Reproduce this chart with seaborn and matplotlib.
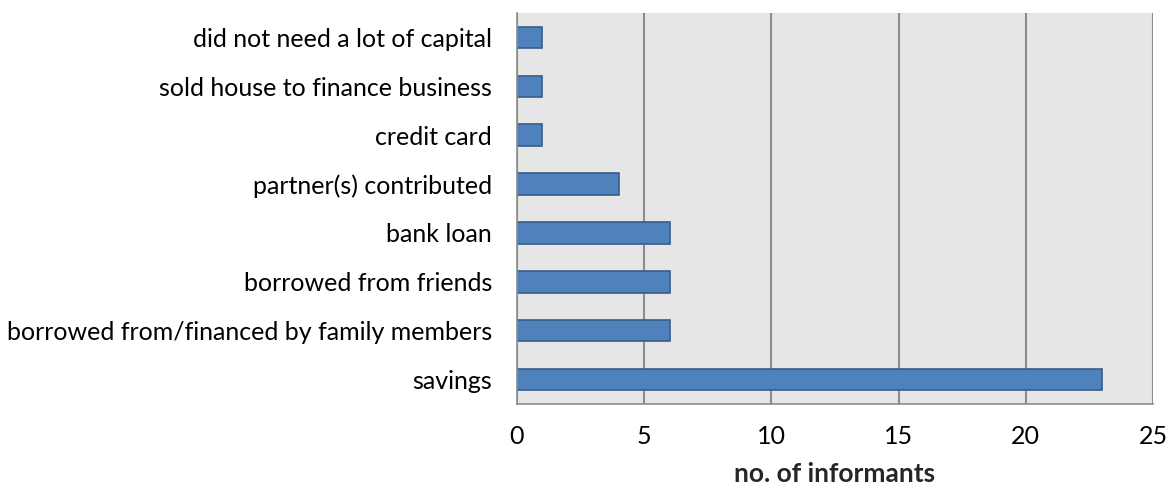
import matplotlib
matplotlib.use("Agg")
import matplotlib.pyplot as plt
import seaborn as sns
import pandas as pd
import numpy as np

categories = [
    "did not need a lot of capital",
    "sold house to finance business",
    "credit card",
    "partner(s) contributed",
    "bank loan",
    "borrowed from friends",
    "borrowed from/financed by family members",
    "savings",
]
counts = [1, 1, 1, 4, 6, 6, 6, 23]
x_ticks = [0, 5, 10, 15, 20, 25]

df = pd.DataFrame({"source": categories, "informants": counts})

sns.set_theme(style="white")
plt.rcParams["font.family"] = ["Lato", "DejaVu Sans"]

fig = plt.figure(figsize=(11.71, 4.86), dpi=100)
ax = fig.add_axes([517 / 1171, 1 - 404 / 486, (1153 - 517) / 1171, (404 - 13) / 486])
ax.set_facecolor("#E6E6E6")

sns.barplot(data=df, y="source", x="informants", order=categories, ax=ax,
            color="#4F81BD", edgecolor="#385D8A", linewidth=1.2, width=0.44,
            saturation=1, orient="h")

grid_c = "#8C8C8C"
ax.set_xlim(0, 25)
ax.set_ylim(len(categories) - 0.5, -0.5)
ax.set_xticks(x_ticks)
ax.set_xticklabels([str(t) for t in x_ticks], fontsize=18, color="#000000")
ax.xaxis.grid(True, color=grid_c, linewidth=1.5)
ax.set_axisbelow(True)

ax.tick_params(axis="y", which="major", length=0, labelsize=18, pad=18, labelcolor="#000000")
ax.set_yticks(np.arange(-0.5, len(categories)), minor=True)
ax.tick_params(axis="y", which="minor", length=7, width=1.2, color=grid_c, direction="out")
ax.tick_params(axis="x", which="major", length=6, width=1.2, color=grid_c, direction="out", pad=9)

for side in ["top", "right"]:
    ax.spines[side].set_visible(False)
for side in ["left", "bottom"]:
    ax.spines[side].set_color(grid_c)
    ax.spines[side].set_linewidth(1.2)

ax.set_ylabel("")
ax.set_xlabel("no. of informants", fontsize=19, fontweight="bold", labelpad=10)

fig.savefig("out.png", dpi=100, facecolor="white")
